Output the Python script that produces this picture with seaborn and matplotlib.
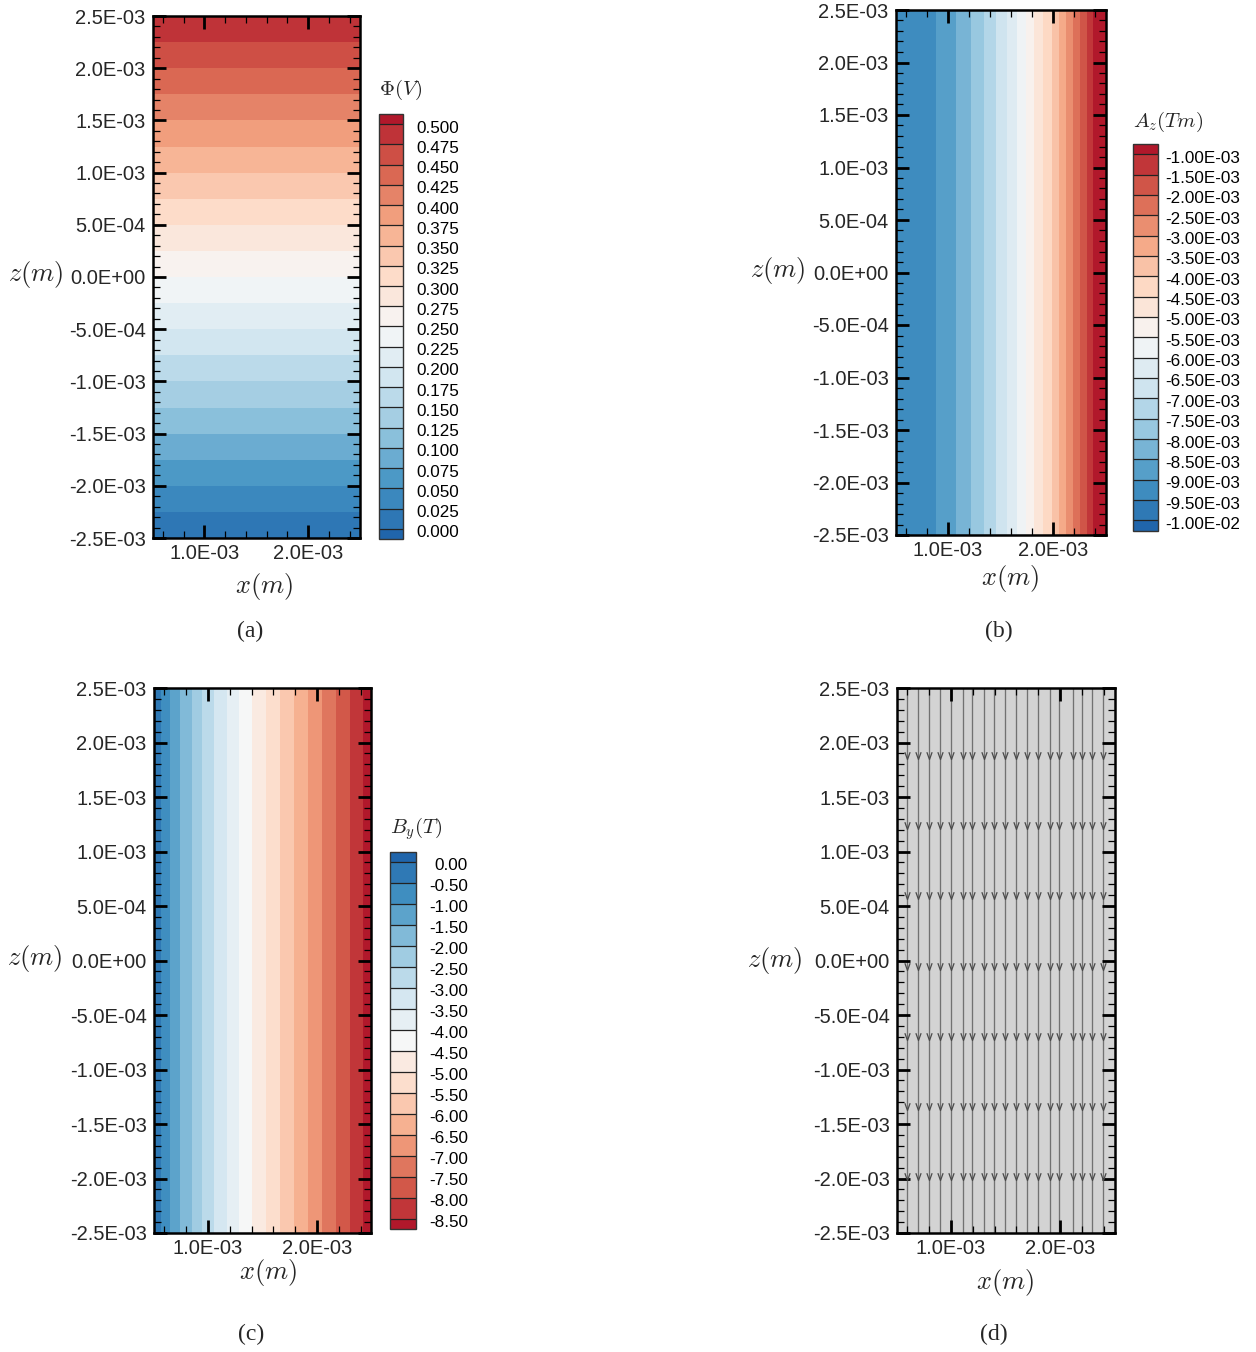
import numpy as np
import pandas as pd
import matplotlib
matplotlib.use("Agg")
import matplotlib.pyplot as plt
import matplotlib.transforms as mtransforms
from matplotlib.colors import ListedColormap, BoundaryNorm
from matplotlib.ticker import MultipleLocator, FuncFormatter, NullLocator
from matplotlib.path import Path
import seaborn as sns

# ---------------- data ----------------
# domain (m)
x_lim = [0.5e-3, 2.5e-3]
z_lim = [-2.5e-3, 2.5e-3]

# (a) electric potential, varies along z only
phi_z = [-2.5e-3, 2.5e-3]
phi_val = [0.0, 0.5]
phi_levels = [0.000, 0.025, 0.050, 0.075, 0.100, 0.125, 0.150, 0.175, 0.200,
              0.225, 0.250, 0.275, 0.300, 0.325, 0.350, 0.375, 0.400, 0.425,
              0.450, 0.475, 0.500]

# (b) magnetic vector potential A_z, varies along x only
az_x = [0.500e-3, 0.886e-3, 1.073e-3, 1.219e-3, 1.346e-3, 1.457e-3, 1.559e-3,
        1.654e-3, 1.743e-3, 1.822e-3, 1.908e-3, 1.988e-3, 2.060e-3, 2.124e-3,
        2.193e-3, 2.257e-3, 2.321e-3, 2.384e-3, 2.500e-3]
az_val = [-9.35e-3, -9.0e-3, -8.5e-3, -8.0e-3, -7.5e-3, -7.0e-3, -6.5e-3,
          -6.0e-3, -5.5e-3, -5.0e-3, -4.5e-3, -4.0e-3, -3.5e-3, -3.0e-3,
          -2.5e-3, -2.0e-3, -1.5e-3, -1.0e-3, -0.8e-3]
az_levels = [-1.0e-2, -9.5e-3, -9.0e-3, -8.5e-3, -8.0e-3, -7.5e-3, -7.0e-3,
             -6.5e-3, -6.0e-3, -5.5e-3, -5.0e-3, -4.5e-3, -4.0e-3, -3.5e-3,
             -3.0e-3, -2.5e-3, -2.0e-3, -1.5e-3, -1.0e-3]

# (c) magnetic flux density B_y, varies along x only
by_x = [0.500e-3, 0.569e-3, 0.651e-3, 0.743e-3, 0.850e-3, 0.948e-3, 1.055e-3,
        1.172e-3, 1.287e-3, 1.406e-3, 1.532e-3, 1.661e-3, 1.789e-3, 1.915e-3,
        2.043e-3, 2.172e-3, 2.303e-3, 2.425e-3, 2.500e-3]
by_val = [-0.2, -0.5, -1.0, -1.5, -2.0, -2.5, -3.0, -3.5, -4.0, -4.5, -5.0,
          -5.5, -6.0, -6.5, -7.0, -7.5, -8.0, -8.5, -8.8]
by_levels = [-8.5, -8.0, -7.5, -7.0, -6.5, -6.0, -5.5, -5.0, -4.5, -4.0, -3.5,
             -3.0, -2.5, -2.0, -1.5, -1.0, -0.5, 0.0]

# (d) current streamlines (vertical, pointing towards -z)
stream_x = [0.599e-3, 0.700e-3, 0.798e-3, 0.899e-3, 1.000e-3, 1.113e-3,
            1.190e-3, 1.303e-3, 1.397e-3, 1.495e-3, 1.596e-3, 1.694e-3,
            1.801e-3, 1.908e-3, 1.994e-3, 2.117e-3, 2.199e-3, 2.296e-3,
            2.397e-3]
arrow_z = [1.849e-3, 1.206e-3, 0.564e-3, -0.087e-3, -0.729e-3, -1.372e-3,
           -2.014e-3]

# ---------------- style ----------------
sns.set_theme(style="ticks")
plt.rcParams["font.family"] = ["Liberation Sans", "DejaVu Sans"]
plt.rcParams["mathtext.fontset"] = "cm"
plt.rcParams["axes.axisbelow"] = False

W, H = 1256, 1352
fig = plt.figure(figsize=(W / 100, H / 100), dpi=100)


def px_axes(x0, y0, x1, y1):
    return fig.add_axes([x0 / W, 1 - y1 / H, (x1 - x0) / W, (y1 - y0) / H])


def sci_fmt(v, pos=None):
    if abs(v) < 1e-12:
        v = 0.0
    return f"{v:.1E}"


def style_axes(ax):
    ax.set_axisbelow(False)
    ax.set_xlim(*x_lim)
    ax.set_ylim(*z_lim)
    ax.set_xlabel("")
    ax.set_ylabel("")
    ax.xaxis.set_major_locator(MultipleLocator(1e-3))
    ax.xaxis.set_minor_locator(MultipleLocator(2e-4))
    ax.yaxis.set_major_locator(MultipleLocator(5e-4))
    ax.yaxis.set_minor_locator(MultipleLocator(1e-4))
    ax.xaxis.set_major_formatter(FuncFormatter(sci_fmt))
    ax.yaxis.set_major_formatter(FuncFormatter(sci_fmt))
    ax.tick_params(which="both", direction="in", top=True, right=True,
                   color="black")
    ax.tick_params(which="major", length=9.5, width=2.0, labelsize=14.5)
    ax.tick_params(which="minor", length=5, width=0.9)
    ax.tick_params(axis="y", which="major", pad=5)
    ax.tick_params(axis="x", which="major", pad=4)
    for s in ax.spines.values():
        s.set_linewidth(1.8)
        s.set_color("black")
        s.set_zorder(5)


def field_colors(name, n):
    cmap = sns.color_palette(name, as_cmap=True)
    return [cmap(t) for t in np.linspace(0.1, 0.9, n)]


def contour_panel(ax, X, Z, F, levels, cmap_name):
    cols = field_colors(cmap_name, len(levels) + 1)
    cmap = ListedColormap(cols[1:-1])
    cmap.set_under(cols[0])
    cmap.set_over(cols[-1])
    norm = BoundaryNorm(levels, cmap.N)
    cs = ax.contourf(X, Z, F, levels=levels, cmap=cmap, norm=norm,
                     extend="both", antialiased=False, zorder=1)
    return cs


def add_cbar(cs, box, levels, fmt, label_right_px, title, title_y_px, ef):
    x0, y0, x1, y1 = box
    cax = px_axes(x0, y0, x1, y1)
    cb = fig.colorbar(cs, cax=cax, extendrect=True, extendfrac=ef,
                      drawedges=True, ticks=[])
    cb.minorticks_off()
    cax.yaxis.set_major_locator(NullLocator())
    cax.yaxis.set_minor_locator(NullLocator())
    cax.tick_params(which="both", length=0)
    cb.outline.set_linewidth(1.0)
    cb.outline.set_edgecolor("#333333")
    cb.dividers.set_color("#222222")
    cb.dividers.set_linewidth(0.9)
    trans = mtransforms.blended_transform_factory(cax.transAxes, cax.transData)
    trans = trans + mtransforms.ScaledTranslation(0, -4 / 100,
                                                  fig.dpi_scale_trans)
    xr = 1 + (label_right_px - x1) / (x1 - x0)
    for v in levels:
        vv = 0.0 if abs(v) < 1e-12 else v
        cax.text(xr, v, fmt(vv), transform=trans, ha="right", va="center",
                 fontsize=12.3, color="black")
    fig.text(x0 / W, 1 - title_y_px / H, title, ha="left", va="center",
             fontsize=15)
    return cb


def axis_labels(xlab_xy, zlab_xy):
    fig.text(xlab_xy[0] / W, 1 - xlab_xy[1] / H, r"$x(m)$", ha="center",
             va="center", fontsize=19)
    fig.text(zlab_xy[0] / W, 1 - zlab_xy[1] / H, r"$z(m)$", ha="center",
             va="center", fontsize=19)


def caption(txt, x, y):
    fig.text(x / W, 1 - y / H, txt, ha="center", va="center", fontsize=17,
             family=["Liberation Serif", "DejaVu Serif"])


# ---------------- (a) potential ----------------
ax_a = px_axes(152.5, 16, 360, 538)
Xa, Za = np.meshgrid(x_lim, phi_z)
Fa = np.tile(np.array(phi_val)[:, None], (1, len(x_lim)))
cs_a = contour_panel(ax_a, Xa, Za, Fa, phi_levels, "RdBu_r")
style_axes(ax_a)
add_cbar(cs_a, (379, 114, 403, 539), phi_levels, lambda v: f"{v:.3f}", 459,
         r"$\Phi(V)$", 90, 0.0247)
axis_labels((264, 586), (36, 275))
caption("(a)", 250, 631)

# ---------------- (b) A_z ----------------
ax_b = px_axes(895.5, 10, 1105.5, 535)
Xb, Zb = np.meshgrid(az_x, z_lim)
Fb = np.tile(np.array(az_val)[None, :], (len(z_lim), 1))
cs_b = contour_panel(ax_b, Xb, Zb, Fb, az_levels, "RdBu_r")
style_axes(ax_b)
add_cbar(cs_b, (1133, 143.6, 1158, 531), az_levels, lambda v: f"{v:.2E}",
         1240, r"$A_z(Tm)$", 122, 0.029)
axis_labels((1010, 578), (778, 271))
caption("(b)", 999, 631)

# ---------------- (c) B_y ----------------
ax_c = px_axes(153.5, 688, 371.5, 1233)
Xc, Zc = np.meshgrid(by_x, z_lim)
Fc = np.tile(np.array(by_val)[None, :], (len(z_lim), 1))
cs_c = contour_panel(ax_c, Xc, Zc, Fc, by_levels, "RdBu")
style_axes(ax_c)
add_cbar(cs_c, (390, 851.7, 416, 1229), by_levels, lambda v: f"{v:.2f}", 468,
         r"$B_y(T)$", 829, 0.028)
axis_labels((268, 1272), (35, 958))
caption("(c)", 251, 1334)

# ---------------- (d) current streamlines ----------------
ax_d = px_axes(896.5, 688, 1114.5, 1233)
ax_d.set_facecolor("#d3d3d3")
stream_df = pd.DataFrame(
    [{"x": xs, "z": zz, "line": i}
     for i, xs in enumerate(stream_x) for zz in z_lim]
)
sns.lineplot(data=stream_df, x="x", y="z", units="line", estimator=None,
             sort=False, color="#727272", linewidth=0.95, legend=False,
             ax=ax_d)
chevron = Path([(-0.36, 1.0), (0.0, 0.0), (0.36, 1.0)],
               [Path.MOVETO, Path.LINETO, Path.LINETO])
arrow_df = pd.DataFrame([{"x": xs, "z": za} for za in arrow_z
                         for xs in stream_x])
ax_d.plot(arrow_df["x"], arrow_df["z"], linestyle="none", marker=chevron,
          markersize=10.5, markeredgewidth=0.9, markeredgecolor="#4a4a4a",
          fillstyle="none", zorder=4)
style_axes(ax_d)
axis_labels((1005, 1283), (775, 961))
caption("(d)", 994, 1334)

fig.savefig("out.png", dpi=100)
